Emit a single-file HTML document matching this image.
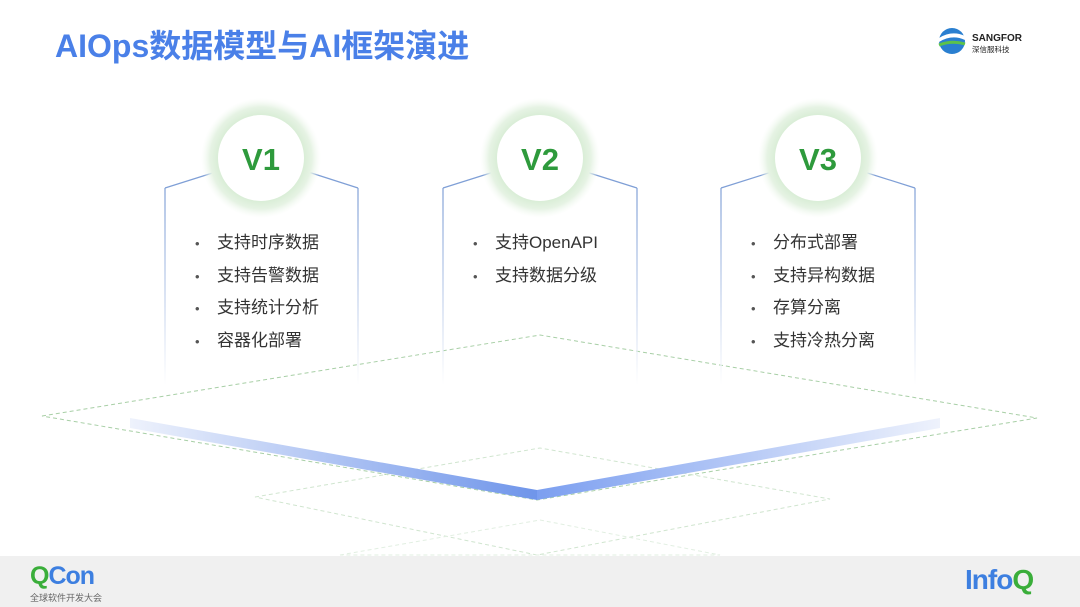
<!DOCTYPE html>
<html><head><meta charset="utf-8"><style>
body{margin:0;width:1080px;height:607px;overflow:hidden;background:#fff;font-family:"Liberation Sans","Noto Sans CJK SC",sans-serif;position:relative}
.t{position:absolute;left:55px;top:21px;font-size:32px;font-weight:bold;color:#4a80e8;white-space:nowrap}
ul{position:absolute;margin:0;padding:0;list-style:none;font-size:17px;color:#333}
ul li{height:32.5px;line-height:32.5px}
ul li:before{content:"•";display:inline-block;width:22px;color:#555;font-size:13px}
.foot{position:absolute;left:0;top:556px;width:1080px;height:51px;background:#f0f0f0}
</style></head><body>
<svg width="1080" height="607" style="position:absolute;left:0;top:0">
<defs>
<radialGradient id="h"><stop offset="0.68" stop-color="#d6ecd3"/><stop offset="0.85" stop-color="#e6f3e4"/><stop offset="1" stop-color="#f4faf3" stop-opacity="0"/></radialGradient>
<linearGradient id="vl" gradientUnits="userSpaceOnUse" x1="0" y1="188" x2="0" y2="385"><stop offset="0" stop-color="#7f9fd6"/><stop offset="0.6" stop-color="#c9d6ee"/><stop offset="1" stop-color="#fff"/></linearGradient>
<linearGradient id="bl" x1="0" x2="1"><stop offset="0" stop-color="#eef2fc"/><stop offset="1" stop-color="#6f95ea"/></linearGradient>
<linearGradient id="br" x1="1" x2="0"><stop offset="0" stop-color="#eef2fc"/><stop offset="1" stop-color="#7c9ff0"/></linearGradient>
</defs>
<g fill="none" stroke-dasharray="4 3" stroke-width="1">
<polygon points="42,416 540,335 1037,418 537,500" stroke="#a8cfa6"/>
<polygon points="255,497 540,448 830,499 537,555" stroke="#d0e5cf"/>
<polygon points="340,555 540,520 720,555" stroke="#e2efe2"/>
</g>
<polygon points="130,418 537,490 537,500 130,428" fill="url(#bl)"/>
<polygon points="940,418 537,490 537,500 940,428" fill="url(#br)"/>
<g stroke="url(#vl)" stroke-width="1.2">
<line x1="165" y1="188" x2="165" y2="385"/><line x1="358" y1="188" x2="358" y2="385"/>
<line x1="443" y1="188" x2="443" y2="385"/><line x1="637" y1="188" x2="637" y2="385"/>
<line x1="721" y1="188" x2="721" y2="385"/><line x1="915" y1="188" x2="915" y2="385"/>
</g>
<g stroke="#7f9fd6" stroke-width="1.2" fill="none">
<polyline points="165,188 222,170"/><polyline points="358,188 302,170"/>
<polyline points="443,188 500,170"/><polyline points="637,188 580,170"/>
<polyline points="721,188 778,170"/><polyline points="915,188 858,170"/>
</g>
<g>
<circle cx="261" cy="158" r="60" fill="url(#h)"/><circle cx="261" cy="158" r="43" fill="#fff"/>
<circle cx="540" cy="158" r="60" fill="url(#h)"/><circle cx="540" cy="158" r="43" fill="#fff"/>
<circle cx="818" cy="158" r="60" fill="url(#h)"/><circle cx="818" cy="158" r="43" fill="#fff"/>
</g>
<g font-family="Liberation Sans,sans-serif" font-weight="bold" font-size="31" fill="#2e9a3c" text-anchor="middle">
<text x="261" y="170">V1</text><text x="540" y="170">V2</text><text x="818" y="170">V3</text>
</g>
<circle cx="952" cy="41" r="13" fill="#2a7fd0"/>
<path d="M939,38 Q952,30 965,36 L965,40 Q952,34 939,42Z" fill="#fff"/>
<path d="M939,45 Q952,40 965,44" stroke="#5cc24a" stroke-width="3" fill="none"/>
<text x="972" y="41" font-family="Liberation Sans,sans-serif" font-weight="bold" font-size="10" fill="#222">SANGFOR</text>
<text x="972" y="52" font-family="Noto Sans CJK SC,sans-serif" font-size="7.5" fill="#222">深信服科技</text>
</svg>
<div class="t">AIOps数据模型与AI框架演进</div>
<ul style="left:195px;top:227px"><li>支持时序数据</li><li>支持告警数据</li><li>支持统计分析</li><li>容器化部署</li></ul>
<ul style="left:473px;top:227px"><li>支持OpenAPI</li><li>支持数据分级</li></ul>
<ul style="left:751px;top:227px"><li>分布式部署</li><li>支持异构数据</li><li>存算分离</li><li>支持冷热分离</li></ul>
<div class="foot">
<div style="position:absolute;left:30px;top:6px;font-size:25px;font-weight:bold;letter-spacing:-1px"><span style="color:#3aae3a">Q</span><span style="color:#3d7fe0">Con</span></div>
<div style="position:absolute;left:30px;top:35px;font-size:9px;color:#666">全球软件开发大会</div>
<div style="position:absolute;left:965px;top:8px;font-size:28px;font-weight:bold;letter-spacing:-1px"><span style="color:#3d7fe0">Info</span><span style="color:#3aae3a">Q</span></div>
</div>
</body></html>
